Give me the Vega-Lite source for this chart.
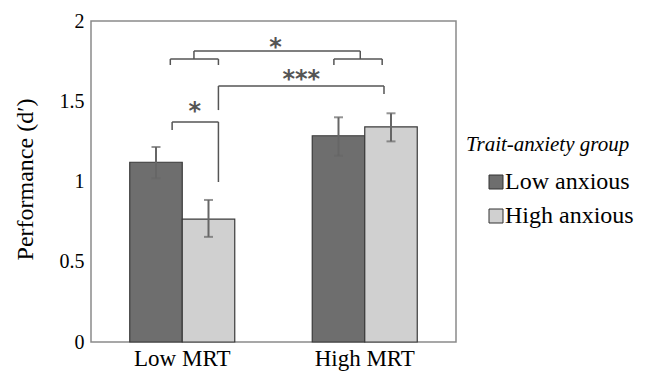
{
  "$schema": "https://vega.github.io/schema/vega-lite/v6.json",
  "width": 365,
  "height": 321,
  "autosize": {"type": "none"},
  "padding": {"left": 91, "top": 21, "right": 189, "bottom": 31},
  "config": {
    "view": {"stroke": "#8a8a8a", "strokeWidth": 1.5},
    "font": "Liberation Serif",
    "legend": {"labelFont": "Liberation Serif", "titleFont": "Liberation Serif"}
  },
  "datasets": {
    "bars": [
      {"group": "Low MRT", "anxiety": "Low anxious", "value": 1.12, "lo": 1.02, "hi": 1.215},
      {"group": "Low MRT", "anxiety": "High anxious", "value": 0.765, "lo": 0.655, "hi": 0.885},
      {"group": "High MRT", "anxiety": "Low anxious", "value": 1.285, "lo": 1.16, "hi": 1.40},
      {"group": "High MRT", "anxiety": "High anxious", "value": 1.34, "lo": 1.25, "hi": 1.425}
    ],
    "brackets": [
      {"x": 1.0205, "x2": 2.023, "y": 1.813, "y2": 1.813},
      {"x": 1.0205, "x2": 1.0205, "y": 1.813, "y2": 1.763},
      {"x": 2.023, "x2": 2.023, "y": 1.813, "y2": 1.763},
      {"x": 0.878, "x2": 1.168, "y": 1.763, "y2": 1.763},
      {"x": 0.878, "x2": 0.878, "y": 1.763, "y2": 1.726},
      {"x": 1.168, "x2": 1.168, "y": 1.763, "y2": 1.726},
      {"x": 1.864, "x2": 2.155, "y": 1.763, "y2": 1.763},
      {"x": 1.864, "x2": 1.864, "y": 1.763, "y2": 1.726},
      {"x": 2.155, "x2": 2.155, "y": 1.763, "y2": 1.726},
      {"x": 1.168, "x2": 2.166, "y": 1.595, "y2": 1.595},
      {"x": 1.168, "x2": 1.168, "y": 1.595, "y2": 1.445},
      {"x": 2.166, "x2": 2.166, "y": 1.595, "y2": 1.545},
      {"x": 0.889, "x2": 1.168, "y": 1.371, "y2": 1.371},
      {"x": 0.889, "x2": 0.889, "y": 1.371, "y2": 1.321},
      {"x": 1.168, "x2": 1.168, "y": 1.371, "y2": 0.997}
    ],
    "stars": [
      {"x": 1.512, "y": 1.869, "label": "*"},
      {"x": 1.667, "y": 1.67, "label": "***"},
      {"x": 1.026, "y": 1.47, "label": "*"}
    ]
  },
  "layer": [
    {
      "layer": [
        {
          "data": {"name": "bars"},
          "mark": {"type": "bar", "stroke": "#3a3a3a", "strokeWidth": 1.2},
          "encoding": {
            "x": {
              "field": "group", "type": "nominal", "sort": ["Low MRT", "High MRT"],
              "scale": {"paddingInner": 0, "paddingOuter": 0},
              "axis": {"title": null, "labelAngle": 0, "ticks": false, "domain": false, "labelFontSize": 23, "labelColor": "#000", "labelPadding": 5, "labelFont": "Liberation Serif"}
            },
            "xOffset": {"field": "anxiety", "type": "nominal", "sort": ["Low anxious", "High anxious"], "scale": {"paddingInner": 0, "paddingOuter": 0.738}},
            "y": {
              "field": "value", "type": "quantitative", "scale": {"domain": [0, 2]},
              "title": "Performance (d′)",
              "axis": {"values": [0, 0.5, 1, 1.5, 2], "format": "~g", "grid": false, "ticks": false, "domain": false, "labelFontSize": 20, "labelColor": "#000", "labelPadding": 7, "labelFont": "Liberation Serif", "titleFont": "Liberation Serif", "titleFontSize": 24, "titleFontWeight": "normal", "titleColor": "#000", "titleX": -66, "titleY": 158, "titleAngle": -90, "titleAlign": "center", "titleBaseline": "middle"}
            },
            "color": {
              "field": "anxiety", "type": "nominal",
              "scale": {"domain": ["Low anxious", "High anxious"], "range": ["#6e6e6e", "#d0d0d0"]},
              "legend": {
                "title": "Trait-anxiety group", "orient": "none", "legendX": 375, "legendY": 113,
                "symbolOffset": 18, "titleFont": "Liberation Serif", "titleFontStyle": "italic", "titleFontSize": 21, "titleFontWeight": "normal", "titleColor": "#000", "titlePadding": 15,
                "labelFont": "Liberation Serif", "labelFontSize": 24, "labelColor": "#000", "labelOffset": -3,
                "symbolType": "square", "symbolSize": 196, "symbolStrokeColor": "#333", "symbolStrokeWidth": 1, "rowPadding": 10
              }
            }
          }
        },
        {
          "data": {"name": "bars"},
          "mark": {"type": "rule", "color": "#666", "strokeWidth": 2},
          "encoding": {
            "x": {"field": "group", "type": "nominal", "sort": ["Low MRT", "High MRT"]},
            "xOffset": {"field": "anxiety", "type": "nominal", "sort": ["Low anxious", "High anxious"]},
            "y": {"field": "lo", "type": "quantitative", "title": "Performance (d′)"},
            "y2": {"field": "hi"}
          }
        },
        {
          "data": {"name": "bars"},
          "mark": {"type": "tick", "color": "#666", "thickness": 2, "size": 9},
          "encoding": {
            "x": {"field": "group", "type": "nominal", "sort": ["Low MRT", "High MRT"]},
            "xOffset": {"field": "anxiety", "type": "nominal", "sort": ["Low anxious", "High anxious"]},
            "y": {"field": "lo", "type": "quantitative", "title": "Performance (d′)"}
          }
        },
        {
          "data": {"name": "bars"},
          "mark": {"type": "tick", "color": "#666", "thickness": 2, "size": 9},
          "encoding": {
            "x": {"field": "group", "type": "nominal", "sort": ["Low MRT", "High MRT"]},
            "xOffset": {"field": "anxiety", "type": "nominal", "sort": ["Low anxious", "High anxious"]},
            "y": {"field": "hi", "type": "quantitative", "title": "Performance (d′)"}
          }
        }
      ]
    },
    {
      "layer": [
        {
          "data": {"name": "brackets"},
          "mark": {"type": "rule", "color": "#555", "strokeWidth": 1.5},
          "encoding": {
            "x": {"field": "x", "type": "quantitative", "scale": {"domain": [0.5, 2.5]}, "axis": null},
            "x2": {"field": "x2"},
            "y": {"field": "y", "type": "quantitative", "title": "Performance (d′)"},
            "y2": {"field": "y2"}
          }
        },
        {
          "data": {"name": "stars"},
          "mark": {"type": "text", "font": "DejaVu Sans", "fontSize": 24, "fontWeight": "bold", "color": "#555", "baseline": "middle", "dy": 6},
          "encoding": {
            "x": {"field": "x", "type": "quantitative", "axis": null},
            "y": {"field": "y", "type": "quantitative", "title": "Performance (d′)"},
            "text": {"field": "label"}
          }
        }
      ]
    }
  ],
  "resolve": {"scale": {"x": "independent"}, "axis": {"x": "independent"}}
}
